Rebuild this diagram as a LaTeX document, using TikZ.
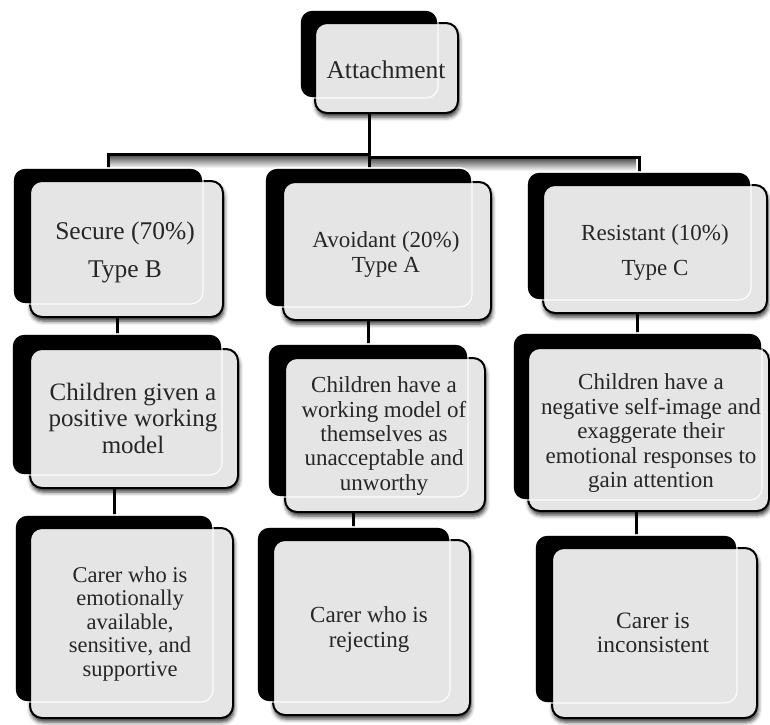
\documentclass[tikz,border=0pt]{standalone}
\usepackage{fontspec}
\setmainfont{Liberation Serif}
\usetikzlibrary{fit,backgrounds,shadows.blur}
\tikzset{
  backbox/.style={fill=black, draw=white, line width=1.2pt, rounded corners=12pt, inner sep=0pt, outer sep=0pt},
  frontbox/.style={fill=black!10, draw=black, line width=2pt, rounded corners=12pt, inner sep=0pt, outer sep=0pt,
    blur shadow={shadow xshift=1pt, shadow yshift=-4pt, shadow blur radius=4pt, shadow opacity=80}},
  ghost/.style={draw=white, line width=1.3pt, opacity=0.85, rounded corners=12pt},
  txt/.style={align=center, text=black!85, inner sep=0pt},
  conn/.style={draw=black, line width=3pt},
}
\newcommand\pbox[5]{%
  \node[backbox, fit={#2 #3}] (#1B) {};
  \node[frontbox, fit={#4 #5}] (#1) {};
  \draw[ghost] #2 rectangle #3;
}
\begin{document}
\begin{tikzpicture}[x=1pt,y=-1pt]
\useasboundingbox (0,0) rectangle (770,724);
% boxes
\pbox{att}{(300,10)}{(438,98)}{(315,23)}{(458,113)}
\pbox{sec}{(13,168)}{(203,304)}{(30,181)}{(223,317)}
\pbox{avo}{(265,168)}{(472,307)}{(283,182)}{(491,320)}
\pbox{res}{(527,172)}{(751,300)}{(543,185)}{(767,313)}
\pbox{secm}{(12,334)}{(222,475)}{(30,349)}{(238,488)}
\pbox{avom}{(268,344)}{(468,497)}{(285,358)}{(485,512)}
\pbox{resm}{(513,333)}{(762,500)}{(528,348)}{(769,511)}
\pbox{secc}{(15,515)}{(213,702)}{(30,528)}{(233,718)}
\pbox{avoc}{(257,527)}{(450,702)}{(273,540)}{(470,715)}
\pbox{resc}{(535,535)}{(737,703)}{(552,548)}{(757,718)}
% texts
\node[txt, font={\fontsize{25.5}{27}\selectfont}] (attt) at (386,70) {Attachment};
\node[txt, font={\fontsize{25.5}{27}\selectfont}] (sect) at (125,252) {Secure (70\%)\\[11pt]Type B};
\node[txt, font={\fontsize{23}{25}\selectfont}] (avot) at (386,254) {Avoidant (20\%)\\Type A};
\node[txt, font={\fontsize{23}{25}\selectfont}] (rest) at (655,252) {Resistant (10\%)\\[10pt]Type C};
\node[txt, font={\fontsize{25}{26.5}\selectfont}] (secmt) at (133,418) {Children given a\\positive working\\model};
\node[txt, font={\fontsize{23}{24.3}\selectfont}] (avomt) at (384,436) {Children have a\\working model of\\themselves as\\unacceptable and\\unworthy};
\node[txt, font={\fontsize{23}{24.5}\selectfont}] (resmt) at (651,433) {Children have a\\negative self-image and\\exaggerate their\\emotional responses to\\gain attention};
\node[txt, font={\fontsize{22.5}{23.5}\selectfont}] (secct) at (130,624) {Carer who is\\emotionally\\available,\\sensitive, and\\supportive};
\node[txt, font={\fontsize{23}{25}\selectfont}] (avoct) at (369,629) {Carer who is\\rejecting};
\node[txt, font={\fontsize{23.5}{24}\selectfont}] (resct) at (653,633) {Carer is\\inconsistent};
% connectors
\coordinate (barL) at (0,154);
\coordinate (barR) at (0,157);
\begin{pgfonlayer}{background}
  \shade[top color=black!70, bottom color=white] (110,155) rectangle (370,168);
  \shade[top color=black!70, bottom color=white] (370,158) rectangle (636,171);
  \draw[conn] (attB.south) -- (attB.south |- avoB.north);
  \draw[conn] (attB.south |- barL) -| (secB.north);
  \draw[conn] (attB.south |- barR) -| (resB.north);
  \draw[conn] (secmB.north) -- (secmB.north |- secB.center);
  \draw[conn] (avomB.north) -- (avomB.north |- avoB.center);
  \draw[conn] (resmB.north) -- (resmB.north |- resB.center);
  \draw[conn] (seccB.north) -- (seccB.north |- secmB.center);
  \draw[conn] (avocB.north) -- (avocB.north |- avomB.center);
  \draw[conn] (rescB.north) -- (rescB.north |- resmB.center);
\end{pgfonlayer}
\end{tikzpicture}
\end{document}
